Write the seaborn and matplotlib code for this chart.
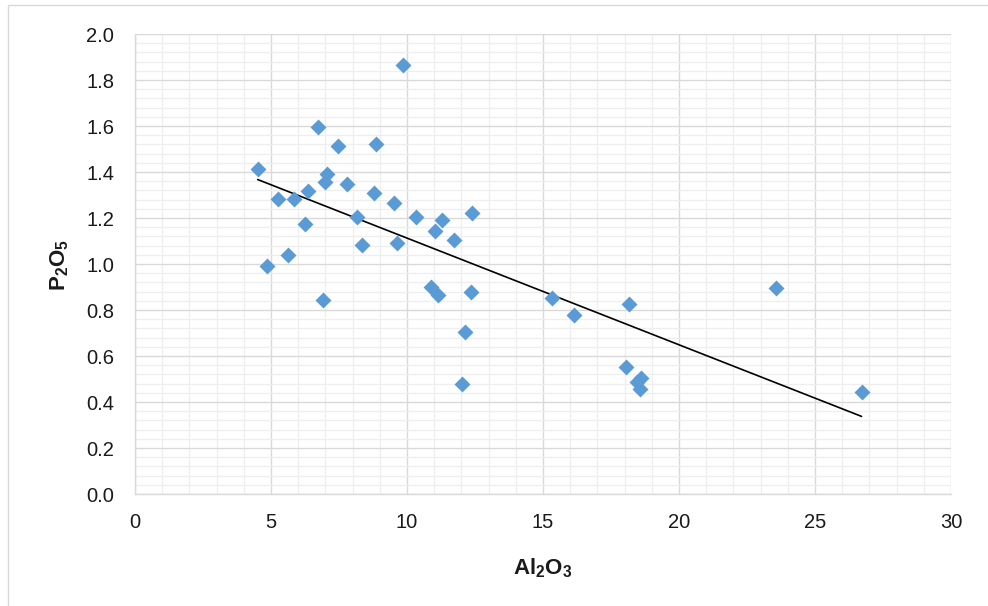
import numpy as np
import pandas as pd
import matplotlib
matplotlib.use("Agg")
import matplotlib.pyplot as plt
import seaborn as sns
from matplotlib.ticker import MultipleLocator
from matplotlib.patches import Rectangle

al2o3 = [4.51, 9.84, 6.73, 7.45, 8.86, 7.07, 6.97, 7.78, 6.36, 8.79,
         5.26, 5.83, 9.53, 8.16, 10.32, 11.30, 11.04, 12.40, 11.71, 6.26,
         8.33, 9.64, 5.62, 4.85, 6.91, 10.88, 11.15, 12.35, 12.15, 12.03,
         15.34, 16.13, 18.17, 23.55, 18.04, 18.60, 18.45, 18.55, 26.71]
p2o5 = [1.412, 1.865, 1.594, 1.514, 1.520, 1.391, 1.358, 1.348, 1.319, 1.307,
        1.284, 1.284, 1.265, 1.203, 1.206, 1.191, 1.143, 1.222, 1.104, 1.173,
        1.083, 1.090, 1.039, 0.993, 0.842, 0.899, 0.867, 0.877, 0.703, 0.480,
        0.854, 0.778, 0.825, 0.894, 0.553, 0.505, 0.485, 0.455, 0.443]

x_ticks = [0, 5, 10, 15, 20, 25, 30]
y_ticks = [0.0, 0.2, 0.4, 0.6, 0.8, 1.0, 1.2, 1.4, 1.6, 1.8, 2.0]

df = pd.DataFrame({"Al2O3": al2o3, "P2O5": p2o5})

sns.set_theme(style="white")
plt.rcParams['font.family'] = ['Liberation Sans', 'DejaVu Sans']
plt.rcParams['mathtext.fontset'] = 'custom'
plt.rcParams['mathtext.rm'] = 'Liberation Sans:bold'
plt.rcParams['mathtext.it'] = 'Liberation Sans:bold'
plt.rcParams['mathtext.bf'] = 'Liberation Sans:bold'
plt.rcParams['mathtext.default'] = 'bf'

fig = plt.figure(figsize=(9.88, 6.06), dpi=100)
fig.patches.append(Rectangle((8/988, -0.1), 1.2, 1 - 5/606 + 0.1,
                             transform=fig.transFigure, fill=False,
                             edgecolor='#d9d9d9', linewidth=1.0))
ax = fig.add_axes([135/988, 1 - 494/606, (951 - 135)/988, (494 - 34)/606])

ax.set_xlim(0, 30)
ax.set_ylim(0, 2.0)
ax.xaxis.set_major_locator(MultipleLocator(5))
ax.xaxis.set_minor_locator(MultipleLocator(1))
ax.yaxis.set_major_locator(MultipleLocator(0.2))
ax.yaxis.set_minor_locator(MultipleLocator(0.04))
ax.grid(which='major', color='#d9d9d9', linewidth=1.0)
ax.grid(which='minor', color='#eeeeee', linewidth=0.9)
ax.set_axisbelow(True)

sns.regplot(data=df, x="Al2O3", y="P2O5", ax=ax, scatter=False, ci=None,
            truncate=True, line_kws=dict(color='black', linewidth=1.2, zorder=2))
sns.scatterplot(data=df, x="Al2O3", y="P2O5", ax=ax, marker='D', s=66,
                color='#5b9bd5', linewidth=0, zorder=3)

ax.set_xticks(x_ticks)
ax.set_yticks(y_ticks)
ax.set_xticklabels([str(t) for t in x_ticks])
ax.set_yticklabels([f"{t:.1f}" for t in y_ticks])
ax.tick_params(axis='both', which='major', labelsize=14.5, colors='#1a1a1a',
               length=5, width=1, color='#d9d9d9', direction='out', pad=5)
ax.tick_params(axis='both', which='minor', length=0)
ax.tick_params(axis='y', pad=10)
ax.tick_params(axis='x', pad=9)

for s in ['top', 'right']:
    ax.spines[s].set_visible(False)
for s in ['left', 'bottom']:
    ax.spines[s].set_color('#d9d9d9')
    ax.spines[s].set_linewidth(1.0)

ax.set_xlabel('')
ax.set_ylabel('')
fig.text(543/988, 1 - 568/606, r'$Al_2O_3$', ha='center', va='center',
         fontsize=16, color='#1a1a1a')
fig.text(60/988, 1 - 265/606, r'$P_2O_5$', ha='center', va='center',
         rotation=90, fontsize=16, color='#1a1a1a')

fig.savefig("out.png", dpi=100)
